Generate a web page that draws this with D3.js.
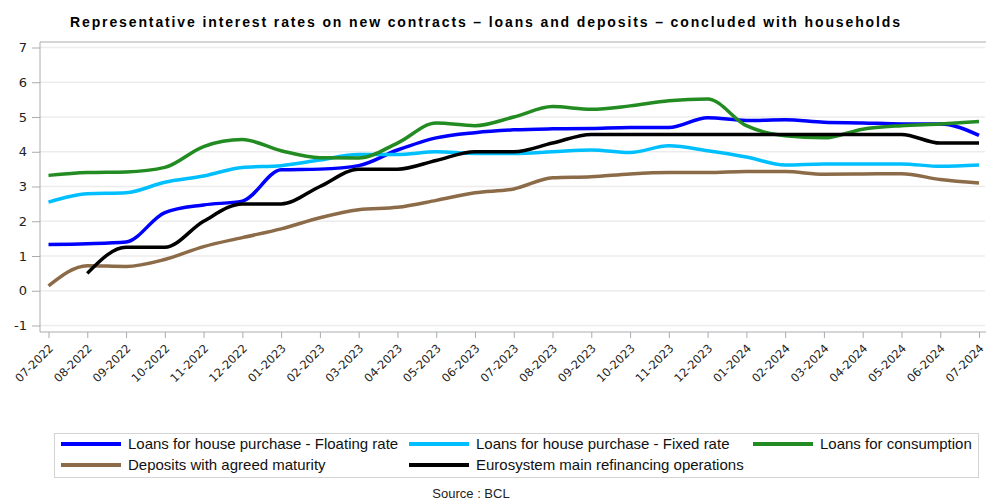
<!DOCTYPE html>
<html>
<head>
<meta charset="utf-8">
<script src="https://cdn.jsdelivr.net/npm/d3@7"></script>
<style>
  body { margin: 0; background: #fff; }
  svg { display: block; }
</style>
</head>
<body>
<svg id="chart" width="986" height="503"></svg>
<script>
// month labels on the x axis
const months = [
  '07-2022', '08-2022', '09-2022', '10-2022', '11-2022', '12-2022',
  '01-2023', '02-2023', '03-2023', '04-2023', '05-2023', '06-2023',
  '07-2023', '08-2023', '09-2023', '10-2023', '11-2023', '12-2023',
  '01-2024', '02-2024', '03-2024', '04-2024', '05-2024', '06-2024', '07-2024'
];

const floatingRate = [1.33, 1.35, 1.4, 2.25, 2.47, 2.58, 3.48, 3.5, 3.6, 4.05, 4.4, 4.55, 4.63, 4.66, 4.67, 4.7, 4.7, 4.98, 4.9, 4.92, 4.85, 4.83, 4.8, 4.8, 4.47];
const fixedRate = [2.55, 2.79, 2.82, 3.12, 3.3, 3.55, 3.6, 3.76, 3.92, 3.92, 4.0, 3.95, 3.95, 4.0, 4.05, 3.98, 4.17, 4.03, 3.85, 3.62, 3.65, 3.65, 3.65, 3.58, 3.62];
const consumption = [3.32, 3.4, 3.42, 3.55, 4.15, 4.35, 4.03, 3.83, 3.82, 4.25, 4.83, 4.75, 5.0, 5.3, 5.22, 5.32, 5.47, 5.52, 4.75, 4.46, 4.4, 4.65, 4.75, 4.8, 4.87];
const deposits = [0.14, 0.72, 0.7, 0.9, 1.27, 1.53, 1.78, 2.1, 2.33, 2.4, 2.6, 2.82, 2.93, 3.25, 3.28, 3.36, 3.4, 3.4, 3.43, 3.43, 3.35, 3.36, 3.37, 3.2, 3.1];
const mro = [null, 0.5, 1.25, 1.25, 2.0, 2.5, 2.5, 3.0, 3.5, 3.5, 3.75, 4.0, 4.0, 4.25, 4.5, 4.5, 4.5, 4.5, 4.5, 4.5, 4.5, 4.5, 4.5, 4.25, 4.25];

const seriesNames = [
  'Loans for house purchase - Floating rate',
  'Loans for house purchase - Fixed rate',
  'Loans for consumption',
  'Deposits with agreed maturity',
  'Eurosystem main refinancing operations'
];
const seriesValues = [floatingRate, fixedRate, consumption, deposits, mro];
const seriesColors = ['#0000ff', '#00bfff', '#228b22', '#8c6b48', '#000000'];

const yTicks = [-1, 0, 1, 2, 3, 4, 5, 6, 7];

const svg = d3.select('#chart');
const frame = { left: 40, top: 42, right: 986, bottom: 332 };

const x = d3.scalePoint()
  .domain(months)
  .range([48.5, 979]);

const y = d3.scaleLinear()
  .domain([-1, 7])
  .range([325.5, 47.5]);

// title
svg.append('text')
  .attr('x', 485)
  .attr('y', 27)
  .attr('text-anchor', 'middle')
  .attr('textLength', 830)
  .attr('lengthAdjust', 'spacing')
  .style('font-family', 'Liberation Sans, Arial, sans-serif')
  .style('font-weight', 'bold')
  .style('font-size', '14px')
  .text('Representative interest rates on new contracts \u2013 loans and deposits \u2013 concluded with households');

// grid lines
svg.append('g')
  .selectAll('line')
  .data(yTicks)
  .join('line')
  .attr('x1', frame.left)
  .attr('x2', 985)
  .attr('y1', (d) => y(d))
  .attr('y2', (d) => y(d))
  .attr('stroke', '#ececec')
  .attr('stroke-width', 1.5);

// frame (left and top)
svg.append('path')
  .attr('d', `M${frame.left},${frame.bottom}V${frame.top}H${frame.right}`)
  .attr('fill', 'none')
  .attr('stroke', '#a8acb0')
  .attr('stroke-width', 1);

// y axis
const yAxis = svg.append('g')
  .attr('transform', `translate(${frame.left},0)`)
  .call(d3.axisLeft(y).tickValues(yTicks).tickSize(8).tickPadding(5).tickFormat((d) => String(d)));
yAxis.select('.domain').remove();
yAxis.selectAll('line').attr('stroke', '#a8acb0');
yAxis.selectAll('text')
  .attr('fill', '#222')
  .style('font-family', 'DejaVu Sans, sans-serif')
  .style('font-size', '13px');

// x axis
const xAxis = svg.append('g')
  .attr('transform', `translate(0,${frame.bottom})`)
  .call(d3.axisBottom(x).tickSize(6).tickSizeOuter(0));
xAxis.select('.domain')
  .attr('d', `M${frame.left},0H${frame.right}`)
  .attr('stroke', '#a8acb0');
xAxis.selectAll('line').attr('stroke', '#a8acb0');
xAxis.selectAll('text')
  .attr('fill', '#222')
  .attr('text-anchor', 'end')
  .attr('dy', null)
  .attr('y', 0)
  .attr('transform', 'translate(5,17) rotate(-45)')
  .style('font-family', 'DejaVu Sans, sans-serif')
  .style('font-size', '11.5px');

// lines
const line = d3.line()
  .defined((d) => d != null)
  .x((d, i) => x(months[i]))
  .y((d) => y(d))
  .curve(d3.curveMonotoneX);

svg.append('g')
  .selectAll('path')
  .data(seriesValues)
  .join('path')
  .attr('d', (d) => line(d))
  .attr('fill', 'none')
  .attr('stroke', (d, i) => seriesColors[i])
  .attr('stroke-width', 3.5)
  .attr('stroke-linejoin', 'round');

// legend
const legendBox = { x: 54, y: 433, w: 924, h: 44 };
svg.append('rect')
  .attr('x', legendBox.x + 0.5)
  .attr('y', legendBox.y + 0.5)
  .attr('width', legendBox.w)
  .attr('height', legendBox.h)
  .attr('fill', 'none')
  .attr('stroke', '#d4d4d4');

const legendPos = [
  { x: 61, y: 444 }, { x: 409, y: 444 }, { x: 753, y: 444 },
  { x: 61, y: 465 }, { x: 409, y: 465 }
];

const items = svg.append('g')
  .selectAll('g')
  .data(seriesNames)
  .join('g')
  .attr('transform', (d, i) => `translate(${legendPos[i].x},${legendPos[i].y})`);

items.append('line')
  .attr('x1', 0)
  .attr('x2', 60)
  .attr('stroke', (d, i) => seriesColors[i])
  .attr('stroke-width', 4);

items.append('text')
  .attr('x', 67)
  .attr('y', 5)
  .style('font-family', 'Liberation Sans Narrow, Liberation Sans, sans-serif')
  .style('font-size', '15px')
  .attr('fill', '#111')
  .text((d) => d);

// source
svg.append('text')
  .attr('x', 471)
  .attr('y', 498)
  .attr('text-anchor', 'middle')
  .style('font-family', 'Liberation Sans, Arial, sans-serif')
  .style('font-size', '13px')
  .attr('fill', '#222')
  .text('Source : BCL');
</script>
</body>
</html>
